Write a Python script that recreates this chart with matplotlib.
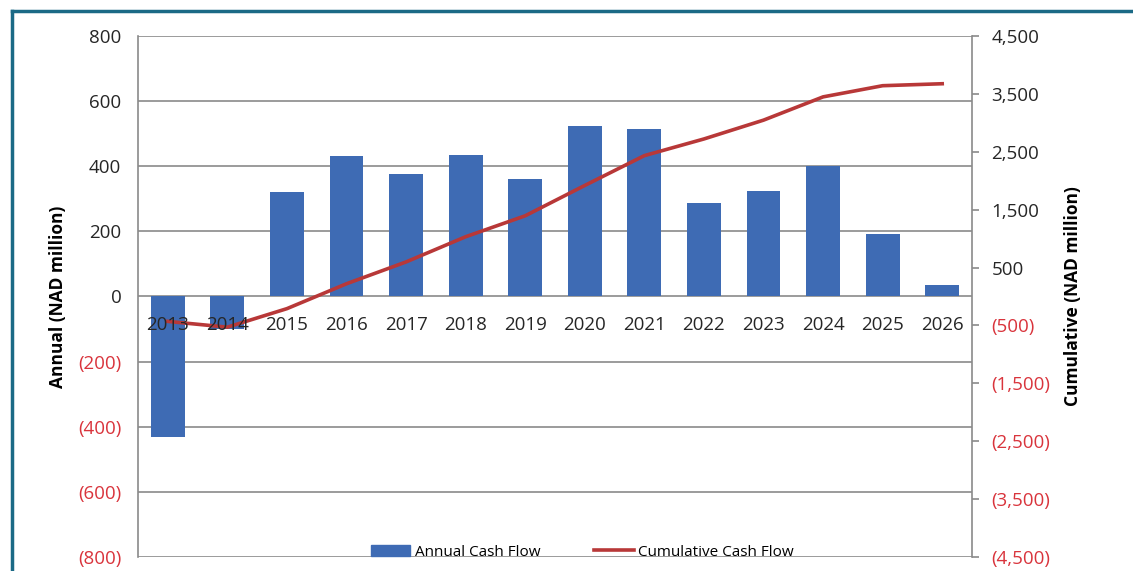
import matplotlib.pyplot as plt
from matplotlib.lines import Line2D
from matplotlib.patches import Patch

plt.rcParams['font.family'] = ['Open Sans', 'DejaVu Sans']

years = ['2013', '2014', '2015', '2016', '2017', '2018', '2019',
         '2020', '2021', '2022', '2023', '2024', '2025', '2026']
annual = [-430, -100, 320, 430, 377, 435, 362, 524, 515, 288, 325, 402, 193, 34]
cumulative = [-430, -530, -210, 220, 597, 1032, 1394, 1918, 2433, 2721,
              3046, 3448, 3641, 3675]

left_ticks = [-800, -600, -400, -200, 0, 200, 400, 600, 800]
right_ticks = [-4500, -3500, -2500, -1500, -500, 500, 1500, 2500, 3500, 4500]

bar_col = '#3e6bb4'
line_col = '#b83838'
neg_col = '#d9343c'
grid_col = '#8a8a8a'
txt_col = '#262626'


def fmt(v):
    s = f'{abs(v):,}'
    return f'({s})' if v < 0 else s


fig = plt.figure(figsize=(11.33, 5.71), dpi=100)
ax = fig.add_axes([0.1218, 0.0245, 0.7361, 0.9125])
ax2 = ax.twinx()

x = list(range(len(years)))
ax.bar(x, annual, width=0.57, color=bar_col, zorder=2)
ax.set_xlim(-0.5, len(years) - 0.5)
ax.set_ylim(-800, 800)
ax.set_yticks(left_ticks)
ax.set_yticklabels([fmt(v) for v in left_ticks], fontsize=13.5)
for lab, v in zip(ax.get_yticklabels(), left_ticks):
    lab.set_color(neg_col if v < 0 else txt_col)
ax.tick_params(axis='y', length=0, pad=12)
ax.grid(axis='y', color=grid_col, linewidth=1.2, zorder=0)
ax.set_xticks([])
for s in ['top', 'right', 'bottom']:
    ax.spines[s].set_visible(False)
ax.spines['left'].set_color(grid_col)
ax.spines['left'].set_linewidth(1.2)
ax.set_ylabel('Annual (NAD million)', fontsize=12.5, fontweight='bold', labelpad=8)

ax2.plot(x, cumulative, color=line_col, linewidth=2.6, zorder=3)
ax2.set_ylim(-4500, 4500)
ax2.set_yticks(right_ticks)
ax2.set_yticklabels([fmt(v) for v in right_ticks], fontsize=13.5)
for lab, v in zip(ax2.get_yticklabels(), right_ticks):
    lab.set_color(neg_col if v < 0 else txt_col)
ax2.tick_params(axis='y', length=5, width=1.2, color=grid_col, pad=9)
for s in ['top', 'left', 'bottom']:
    ax2.spines[s].set_visible(False)
ax2.spines['right'].set_color(grid_col)
ax2.spines['right'].set_linewidth(1.2)
ax2.set_ylabel('Cumulative (NAD million)', fontsize=12.5, fontweight='bold', labelpad=10)

# year labels just under the zero line, on top of bars and line
for xi, yr in zip(x, years):
    ax2.text(xi, -88, yr, transform=ax.transData, ha='center', va='center',
             fontsize=13.5, color=txt_col, zorder=5)

handles = [Patch(color=bar_col), Line2D([], [], color=line_col, linewidth=2.6)]
fig.legend(handles, ['Annual Cash Flow', 'Cumulative Cash Flow'], ncol=2,
           loc='center', bbox_to_anchor=(0.514, 0.033), frameon=False,
           fontsize=11, handlelength=2.6, handletextpad=0.3, columnspacing=3.5)

# outer frame
fig.add_artist(Line2D([0.0106, 1.0], [0.981, 0.981], color='#1b6a86', linewidth=2.5,
                      transform=fig.transFigure))
fig.add_artist(Line2D([0.0106, 0.0106], [0.0, 0.981], color='#1b6a86', linewidth=2.5,
                      transform=fig.transFigure))

fig.savefig('out.png', dpi=100)
